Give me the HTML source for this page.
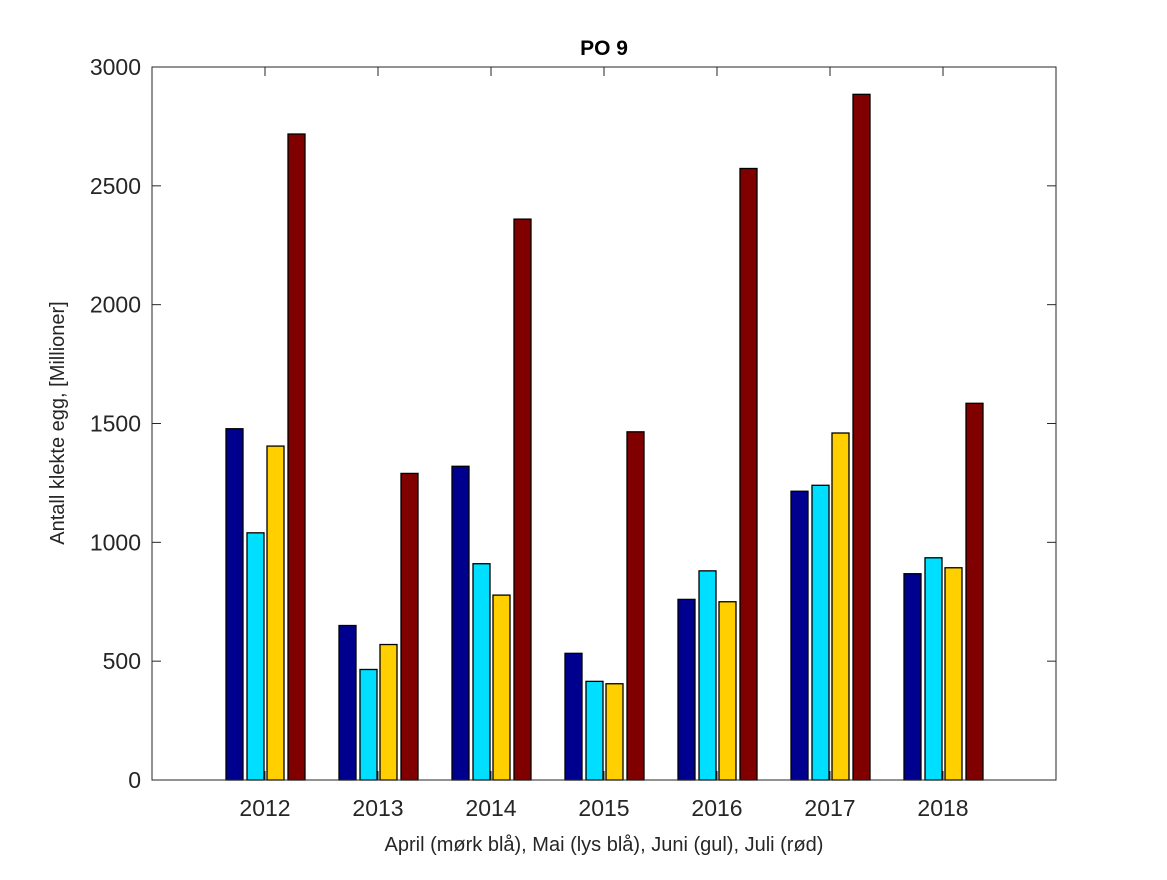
<!DOCTYPE html>
<html><head><meta charset="utf-8"><style>body{margin:0;background:#fff}</style></head>
<body>
<svg width="1167" height="875" xmlns="http://www.w3.org/2000/svg" font-family="Liberation Sans, sans-serif">
<rect width="1167" height="875" fill="#fff"/>
<g id="bars" stroke="#000" stroke-width="1.3"></g>
<rect x="152" y="67" width="904" height="713" fill="none" stroke="#262626" stroke-width="1"/>
<g id="ticks" stroke="#262626" stroke-width="1"></g>
<g id="labels" fill="#262626" font-size="23"></g>
<text x="604" y="55" text-anchor="middle" font-size="21" font-weight="bold" fill="#000">PO 9</text>
<text x="604" y="851" text-anchor="middle" font-size="20" fill="#262626">April (mørk blå), Mai (lys blå), Juni (gul), Juli (rød)</text>
<text transform="translate(64,423) rotate(-90)" text-anchor="middle" font-size="20" fill="#262626">Antall klekte egg, [Millioner]</text>
<script>
var data=[[1478,1040,1405,2718],[650,465,570,1290],[1320,910,778,2360],[533,415,405,1465],[760,880,750,2573],[1215,1240,1460,2885],[868,935,893,1585]];
var cols=["#00008f","#00dfff","#ffcf00","#800000"],offs=[-39,-18,2,23];
var ns="http://www.w3.org/2000/svg",b=document.getElementById("bars"),t=document.getElementById("ticks"),l=document.getElementById("labels");
function y(v){return 780-v*713/3000}
function el(p,n,a,txt){var e=document.createElementNS(ns,n);for(var k in a)e.setAttribute(k,a[k]);if(txt)e.textContent=txt;p.appendChild(e);}
data.forEach(function(g,i){var c=265+113*i;g.forEach(function(v,j){el(b,"rect",{x:c+offs[j],y:y(v),width:17,height:780-y(v),fill:cols[j]});});
el(t,"line",{x1:c,x2:c,y1:780,y2:771});el(t,"line",{x1:c,x2:c,y1:67,y2:76});
el(l,"text",{x:c,y:816,"text-anchor":"middle"},String(2012+i));});
for(var v=0;v<=3000;v+=500){var yy=y(v);el(t,"line",{x1:152,x2:161,y1:yy,y2:yy});el(t,"line",{x1:1056,x2:1047,y1:yy,y2:yy});
el(l,"text",{x:141,y:yy+8,"text-anchor":"end"},String(v));}
</script>
</svg>
</body></html>
